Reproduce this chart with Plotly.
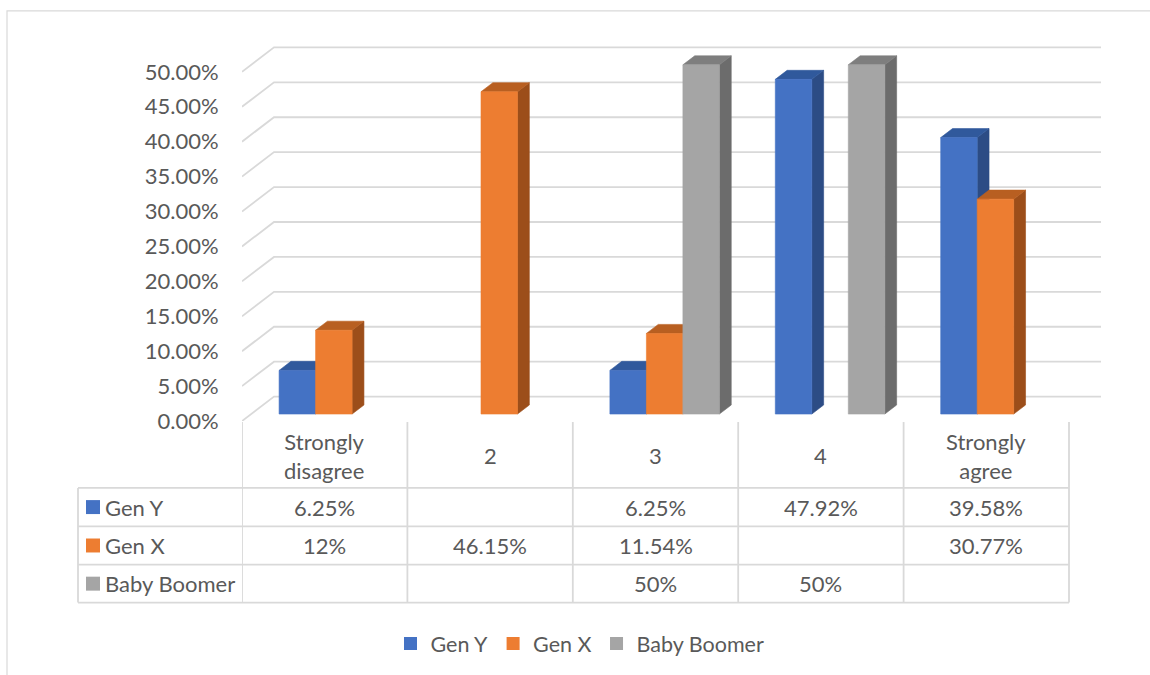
import plotly.graph_objects as go

# ---- data -------------------------------------------------------------
categories = ["Strongly<br>disagree", "2", "3", "4", "Strongly<br>agree"]
series_names = ["Gen Y", "Gen X", "Baby Boomer"]
gen_y = [6.25, None, 6.25, 47.92, 39.58]
gen_x = [12, 46.15, 11.54, None, 30.77]
baby_boomer = [None, None, 50, 50, None]
y_ticks = [0, 5, 10, 15, 20, 25, 30, 35, 40, 45, 50]

series_values = [gen_y, gen_x, baby_boomer]

# ---- styling ----------------------------------------------------------
W, H = 1150, 675
V_SCALE = 0.983          # vertical page-to-image ratio
FONT = "Lato"
FS = 22
TXT = "#595959"
GRID = "#d9d9d9"
front_col = ["#4472C4", "#ED7D31", "#A5A5A5"]
top_col = ["#30599C", "#B85F21", "#7E7E7E"]
side_col = ["#2C4C85", "#9C4E1A", "#6C6C6C"]

# oblique depth offsets (category units / percent units)
DX = 32 / 165.4
DY = 24.5 / 7.0
BAR_W = 36.5 / 165.4
D_FRONT = 0.286
D_BACK = D_FRONT + 0.37

# plot-area placement in pixels
X_LEFT_PX, X_RIGHT_PX = 242, 1102
Y_TOP_PX, Y_BOT_PX = 30, 422
X_RANGE = [-0.5, -0.5 + (X_RIGHT_PX - X_LEFT_PX) / 165.4]
Y_RANGE = [0, (Y_BOT_PX - Y_TOP_PX) / 7.0]


def px_x(p):
    return p / W


def px_y(p):
    return 1 - (p / V_SCALE) / H


def proj(x, v, d):
    return x + d * DX, v + d * DY


fig = go.Figure()

# back-wall gridlines with left-wall diagonals
for t in y_ticks:
    xs, ys = [], []
    for (x, d) in [(-0.5, 0), (-0.5, 1), (4.5, 1)]:
        px, py = proj(x, t, d)
        xs.append(px)
        ys.append(py)
    fig.add_trace(go.Scatter(x=xs, y=ys, mode="lines",
                             line=dict(color=GRID, width=1.8),
                             hoverinfo="skip", showlegend=False))


def face(pts, color):
    xs = [p[0] for p in pts] + [pts[0][0]]
    ys = [p[1] for p in pts] + [pts[0][1]]
    fig.add_trace(go.Scatter(x=xs, y=ys, mode="lines", fill="toself",
                             fillcolor=color, line=dict(color=color, width=0.6),
                             hoverinfo="skip", showlegend=False))


# 3D columns: side, top, then front for each bar, left to right
for ci in range(len(categories)):
    for si, vals in enumerate(series_values):
        h = vals[ci]
        if h is None:
            continue
        x0 = ci + (si - 1.5) * BAR_W
        x1 = x0 + BAR_W
        face([proj(x1, 0, D_FRONT), proj(x1, 0, D_BACK),
              proj(x1, h, D_BACK), proj(x1, h, D_FRONT)], side_col[si])
        face([proj(x0, h, D_FRONT), proj(x1, h, D_FRONT),
              proj(x1, h, D_BACK), proj(x0, h, D_BACK)], top_col[si])
        face([proj(x0, 0, D_FRONT), proj(x1, 0, D_FRONT),
              proj(x1, h, D_FRONT), proj(x0, h, D_FRONT)], front_col[si])

# legend entries
for si, name in enumerate(series_names):
    fig.add_trace(go.Scatter(x=[None], y=[None], mode="markers", name=name,
                             marker=dict(symbol="square", size=13,
                                         color=front_col[si])))

# ---- data table under the plot ----------------------------------------
shapes = []
annotations = []
TABLE_LEFT_PX = 78
row_edges = [489, 527.5, 566, 604]
HEADER_TOP = 423


def hline(x0, x1, y, xref="paper"):
    shapes.append(dict(type="line", xref=xref, yref="paper",
                       x0=x0, x1=x1, y0=px_y(y), y1=px_y(y),
                       line=dict(color=GRID, width=1.8)))


def vline(x, y0, y1, xref="paper"):
    shapes.append(dict(type="line", xref=xref, yref="paper",
                       x0=x, x1=x, y0=px_y(y0), y1=px_y(y1),
                       line=dict(color=GRID, width=1.8)))


# vertical column separators (header + body)
for k in range(len(categories) + 1):
    vline(k - 0.5, HEADER_TOP, row_edges[-1], xref="x")
# horizontal row lines across the value columns
for y in row_edges:
    hline(-0.5, len(categories) - 0.5, y, xref="x")
# series-name column box
vline(px_x(TABLE_LEFT_PX), row_edges[0], row_edges[-1])
for y in row_edges:
    hline(px_x(TABLE_LEFT_PX), px_x(X_LEFT_PX), y)

# header category labels
for ci, cat in enumerate(categories):
    annotations.append(dict(x=ci, y=px_y(457), xref="x", yref="paper",
                            text=cat, showarrow=False,
                            font=dict(family=FONT, size=FS, color=TXT),
                            xanchor="center", yanchor="middle"))

# series rows
for si, (name, vals) in enumerate(zip(series_names, series_values)):
    yc = (row_edges[si] + row_edges[si + 1]) / 2
    shapes.append(dict(type="rect", xref="paper", yref="paper",
                       x0=px_x(86), x1=px_x(100),
                       y0=px_y(yc - 7), y1=px_y(yc + 7),
                       fillcolor=front_col[si], line=dict(width=0)))
    annotations.append(dict(x=px_x(103), y=px_y(yc), xref="paper", yref="paper",
                            text=name, showarrow=False,
                            font=dict(family=FONT, size=FS, color=TXT),
                            xanchor="left", yanchor="middle"))
    for ci, v in enumerate(vals):
        if v is None:
            continue
        annotations.append(dict(x=ci, y=px_y(yc), xref="x", yref="paper",
                                text=f"{v:g}%", showarrow=False,
                                font=dict(family=FONT, size=FS, color=TXT),
                                xanchor="center", yanchor="middle"))

# outer chart frame
shapes.append(dict(type="rect", xref="paper", yref="paper",
                   x0=px_x(7), x1=px_x(1170), y0=px_y(720), y1=px_y(11),
                   line=dict(color=GRID, width=1.2), fillcolor="rgba(0,0,0,0)",
                   layer="below"))

fig.update_layout(
    width=W, height=H,
    margin=dict(l=0, r=0, t=0, b=0),
    paper_bgcolor="white", plot_bgcolor="white",
    font=dict(family=FONT, size=FS, color=TXT),
    xaxis=dict(range=X_RANGE, domain=[px_x(X_LEFT_PX), px_x(X_RIGHT_PX)],
               showgrid=False, zeroline=False, showticklabels=False,
               showline=False, fixedrange=True),
    yaxis=dict(range=Y_RANGE, domain=[px_y(Y_BOT_PX), px_y(Y_TOP_PX)],
               tickvals=y_ticks, ticktext=[f"{t:.2f}%" for t in y_ticks],
               ticks="outside", ticklen=18, tickcolor="rgba(0,0,0,0)",
               showgrid=False, zeroline=False, showline=False,
               tickfont=dict(family=FONT, size=FS, color=TXT),
               fixedrange=True),
    showlegend=True,
    legend=dict(orientation="h", x=px_x(580), y=px_y(645),
                xanchor="center", yanchor="middle",
                font=dict(family=FONT, size=21.5, color=TXT),
                itemwidth=30, bgcolor="rgba(0,0,0,0)"),
    shapes=shapes,
    annotations=annotations,
)

fig.write_html("out.html")
